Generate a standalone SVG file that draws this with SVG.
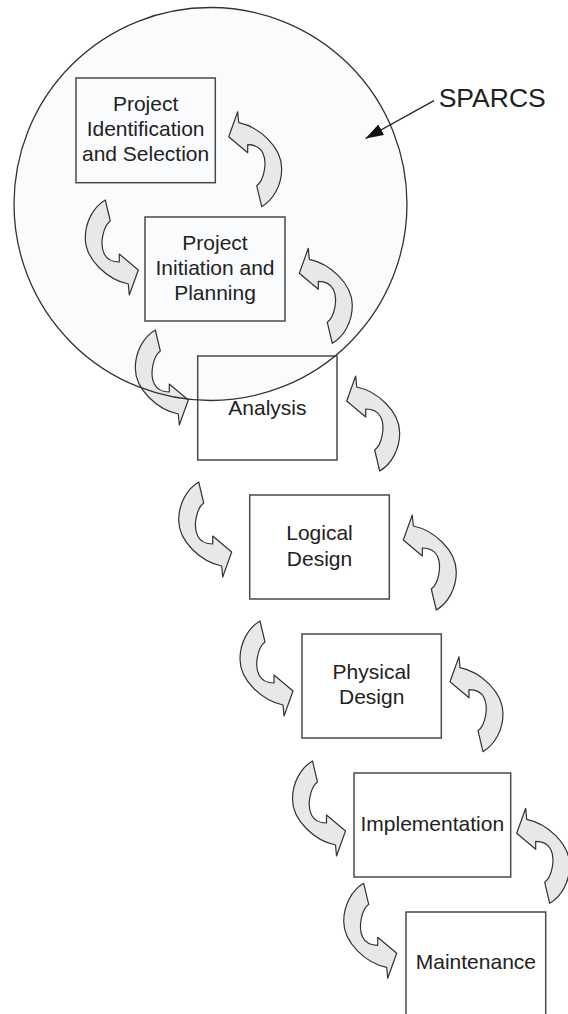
<svg xmlns="http://www.w3.org/2000/svg" width="568" height="1014" viewBox="0 0 568 1014">
  <style>
    .box { fill: none; stroke: #4a4a4a; stroke-width: 1.5; }
    .lbl { font-family: "Liberation Sans", Arial, sans-serif; font-size: 21px; fill: #222; text-anchor: middle; }
    .carrow { fill: #e8e8e8; stroke: #333; stroke-width: 1.2; stroke-linejoin: round; }
    .ring { fill: none; stroke: #333; stroke-width: 1.3; }
  </style>
  <defs>
    <path id="carrow" d="M -33,-70 L -28,-49 C -35,-44 -39,-26 -34,-16 C -31,-10 -25,-8 -19,-8 L -19,-16 L 0,0 L -9,25 L -10,14 C -30,10 -53,-10 -53,-32 C -53,-48 -45,-63 -33,-70 Z"/>
    <marker id="head" markerUnits="userSpaceOnUse" markerWidth="20" markerHeight="14" refX="18" refY="6" orient="auto">
      <path d="M0,0 L18,6 L0,12 Z" fill="#111"/>
    </marker>
  </defs>
  <rect width="568" height="1014" fill="#ffffff"/>

  <g id="sparcs-region">
    <circle cx="210.5" cy="204" r="196.5" fill="#fafbfd"/>
  </g>

  <g id="node-identification">
    <rect class="box" x="76" y="78" width="139.3" height="104.7"/>
    <text class="lbl" x="145.6" y="111">Project</text>
    <text class="lbl" x="145.6" y="136">Identification</text>
    <text class="lbl" x="145.6" y="161">and Selection</text>
  </g>
  <g id="node-initiation">
    <rect class="box" x="145" y="217" width="140" height="104"/>
    <text class="lbl" x="215" y="250">Project</text>
    <text class="lbl" x="215" y="275">Initiation and</text>
    <text class="lbl" x="215" y="300">Planning</text>
  </g>
  <g id="node-analysis">
    <rect class="box" x="197.7" y="356" width="139.3" height="104"/>
    <text class="lbl" x="267.4" y="415">Analysis</text>
  </g>
  <g id="node-logical">
    <rect class="box" x="249.7" y="495" width="139.6" height="104"/>
    <text class="lbl" x="319.5" y="540">Logical</text>
    <text class="lbl" x="319.5" y="565.5">Design</text>
  </g>
  <g id="node-physical">
    <rect class="box" x="302" y="634" width="139.3" height="104"/>
    <text class="lbl" x="371.7" y="679.3">Physical</text>
    <text class="lbl" x="371.7" y="704.3">Design</text>
  </g>
  <g id="node-implementation">
    <rect class="box" x="354" y="773" width="156.7" height="104"/>
    <text class="lbl" x="432.3" y="831">Implementation</text>
  </g>
  <g id="node-maintenance">
    <rect class="box" x="406" y="912" width="139.7" height="110"/>
    <text class="lbl" x="475.9" y="969">Maintenance</text>
  </g>

  <g id="connectors">
    <use href="#carrow" class="carrow" transform="translate(138.3,270)"/>
    <use href="#carrow" class="carrow" transform="translate(188.3,400)"/>
    <use href="#carrow" class="carrow" transform="translate(231.7,552)"/>
    <use href="#carrow" class="carrow" transform="translate(293,691)"/>
    <use href="#carrow" class="carrow" transform="translate(345.5,831)"/>
    <use href="#carrow" class="carrow" transform="translate(396.7,953.3)"/>
    <use href="#carrow" class="carrow" transform="translate(228.7,136.7) rotate(180)"/>
    <use href="#carrow" class="carrow" transform="translate(299.3,273.3) rotate(180)"/>
    <use href="#carrow" class="carrow" transform="translate(346.7,401) rotate(180)"/>
    <use href="#carrow" class="carrow" transform="translate(403.3,540) rotate(180)"/>
    <use href="#carrow" class="carrow" transform="translate(450,681.7) rotate(180)"/>
    <use href="#carrow" class="carrow" transform="translate(516.7,833.3) rotate(180)"/>
  </g>

  <g id="sparcs-outline">
    <circle class="ring" cx="210.5" cy="204" r="196.5"/>
  </g>

  <g id="sparcs-label">
    <line x1="434" y1="100.7" x2="365.5" y2="138.5" stroke="#222" stroke-width="1.4" marker-end="url(#head)"/>
    <text x="438.7" y="107.3" font-family="Liberation Sans, Arial, sans-serif" font-size="26.5" fill="#222">SPARCS</text>
  </g>
</svg>
